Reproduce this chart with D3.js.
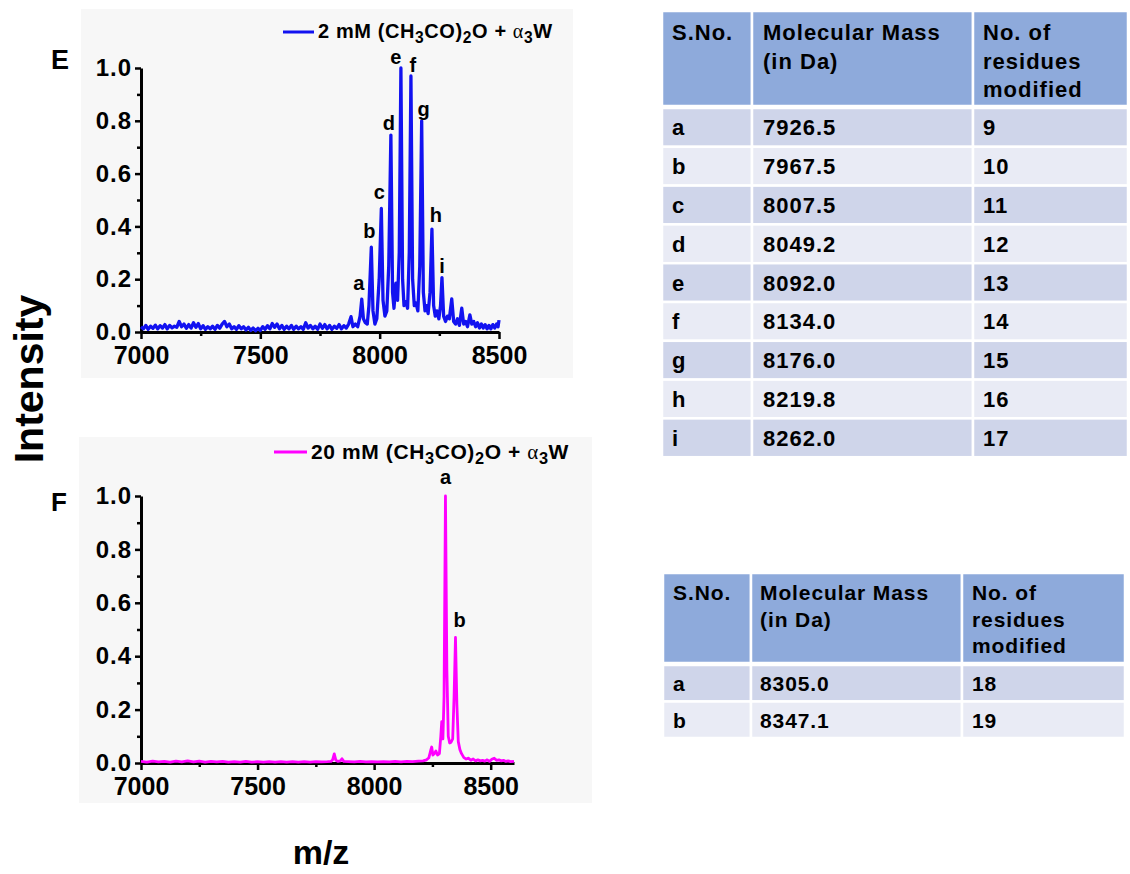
<!DOCTYPE html>
<html>
<head>
<meta charset="utf-8">
<script src="https://cdn.jsdelivr.net/npm/d3@7"></script>
<style>
body { margin: 0; background: #fff; }
svg text { font-family: "Liberation Sans", Arial, sans-serif; font-weight: bold; fill: #000; }
</style>
</head>
<body>
<script>
// ---- panel E : 2 mM acetic anhydride ----
// baseline noise, sampled every 10 Da from 7000
var baseE_start = 7000, baseE_step = 10;
var baseE = [
  .02,.012,.025,.01,.022,.014,.026,.012,.024,.015,
  .028,.012,.025,.016,.022,.018,.04,.02,.03,.014,
  .028,.015,.035,.018,.032,.012,.024,.01,.02,.012,
  .022,.01,.025,.014,.03,.04,.02,.03,.012,.02,
  .01,.024,.012,.02,.008,.018,.006,.015,.005,.014,
  .006,.02,.01,.024,.012,.032,.018,.03,.012,.025,
  .01,.022,.012,.025,.01,.022,.012,.02,.01,.035,
  .015,.025,.012,.022,.01,.03,.014,.028,.012,.025,
  .01,.022,.014,.028,.012,.024,.015
];
// peak envelope [m/z, intensity]
var peaksE = [
  [7870,.03],[7880,.058],[7888,.02],[7898,.03],[7908,.02],[7918,.06],[7925,.124],[7932,.05],
  [7940,.035],[7948,.03],[7955,.1],[7965,.321],[7972,.08],[7980,.03],[7988,.05],[7998,.2],
  [8007,.468],[8014,.12],[8022,.06],[8030,.08],[8038,.25],[8047,.746],[8054,.15],[8060,.09],
  [8068,.185],[8075,.12],[8082,.3],[8089,1.0],[8096,.2],[8102,.1],[8110,.115],[8117,.09],
  [8124,.3],[8131,.97],[8138,.2],[8145,.1],[8152,.11],[8160,.08],[8168,.25],[8176,.80],
  [8183,.15],[8190,.08],[8196,.1],[8203,.07],[8211,.15],[8219,.39],[8226,.1],[8233,.06],
  [8240,.08],[8248,.05],[8255,.1],[8261,.206],[8268,.06],[8276,.04],[8284,.06],[8292,.05],
  [8302,.125],[8310,.04],[8318,.03],[8326,.05],[8334,.025],[8344,.09],[8352,.03],[8360,.04],
  [8368,.02],[8378,.065],[8386,.03],[8394,.04],[8402,.02],[8410,.035],[8418,.015],[8426,.03],
  [8434,.015],[8442,.028],[8450,.012],[8458,.025],[8466,.012],[8474,.028],[8482,.015],
  [8490,.03],[8496,.02],[8500,.045]
];
var labelsE = ["a","b","c","d","e","f","g","h","i"];
var labelMzE = [7925,7965,8007,8047,8089,8131,8176,8219,8261];
var labelIntE = [.124,.321,.468,.746,1.0,.97,.80,.39,.206];
var nudgeE = [[-3,-9],[-2,-9],[-2,-9],[-2,-5],[-5,-4],[2,-4],[2,-5],[4,-7],[0,-5]];

// ---- panel F : 20 mM acetic anhydride ----
var spectrumF = [
  [7000,.006],[7025,.003],[7050,.007],[7075,.004],[7100,.006],[7125,.003],[7150,.007],[7175,.004],
  [7200,.008],[7225,.004],[7250,.007],[7275,.003],[7300,.006],[7325,.004],[7350,.006],[7375,.003],
  [7400,.005],[7425,.003],[7450,.006],[7475,.003],[7500,.005],[7525,.003],[7550,.005],[7575,.003],
  [7600,.005],[7625,.003],[7650,.005],[7675,.003],[7700,.005],[7725,.003],[7750,.005],[7775,.004],
  [7800,.005],[7815,.006],[7822,.012],[7829,.034],[7836,.01],[7845,.006],[7855,.008],[7862,.016],
  [7870,.006],[7890,.005],[7915,.004],[7940,.006],[7965,.004],[7990,.005],[8015,.004],[8040,.005],
  [8065,.004],[8090,.006],[8115,.004],[8140,.006],[8165,.005],[8190,.007],[8210,.008],[8225,.012],
  [8235,.02],[8242,.045],[8247,.06],[8252,.03],[8258,.035],[8265,.045],[8272,.03],[8280,.035],
  [8286,.1],[8290,.155],[8295,.09],[8300,.25],[8306,1.0],[8312,.35],[8318,.1],[8324,.075],
  [8330,.078],[8337,.09],[8343,.25],[8349,.47],[8355,.22],[8361,.08],[8368,.05],[8375,.035],
  [8385,.02],[8395,.015],[8405,.018],[8415,.01],[8425,.015],[8435,.008],[8445,.012],[8455,.008],
  [8465,.01],[8475,.007],[8485,.012],[8495,.006],[8505,.014],[8515,.018],[8525,.01],[8535,.012],
  [8545,.008],[8555,.01],[8565,.006],[8575,.008],[8585,.005],[8600,.006]
];
var labelsF = ["a","b"];
var labelMzF = [8306,8349];
var labelIntF = [1.0,.47];
var nudgeF = [[0,-12],[4,-11]];

// axis ticks
var yMajor = [0,.2,.4,.6,.8,1.0];
var yMinor = [.1,.3,.5,.7,.9];
var xMajor = [7000,7500,8000,8500];
var xMinor = [7250,7750,8250];

// legend text pieces: 0 normal, 1 subscript, 2 greek
var legendE = [["2 mM (CH",0],["3",1],["CO)",0],["2",1],["O + ",0],["\u03b1",2],["3",1],["W",0]];
var legendF = [["20 mM (CH",0],["3",1],["CO)",0],["2",1],["O + ",0],["\u03b1",2],["3",1],["W",0]];

// ---- tables ----
var tableHead = [["S.No."],["Molecular Mass","(in Da)"],["No. of","residues","modified"]];
var snoE = ["a","b","c","d","e","f","g","h","i"];
var massE = ["7926.5","7967.5","8007.5","8049.2","8092.0","8134.0","8176.0","8219.8","8262.0"];
var resE = [9,10,11,12,13,14,15,16,17];
var snoF = ["a","b"];
var massF = ["8305.0","8347.1"];
var resF = [18,19];

var svg = d3.select("body").append("svg")
  .attr("width", 1130).attr("height", 874);

function drawLegend(g, parts, lx, ly, tx, ty, color, size) {
  g.append("line").attr("x1", lx[0]).attr("x2", lx[1]).attr("y1", ly).attr("y2", ly)
    .attr("stroke", color).attr("stroke-width", 3);
  var t = g.append("text").attr("x", tx).attr("y", ty)
    .style("font-size", size + "px").style("letter-spacing", "0.6px");
  var shift = 0;
  parts.forEach(function(p) {
    var s = t.append("tspan").text(p[0]);
    var want = p[1] == 1 ? 5 : 0;
    if (want != shift) { s.attr("dy", want - shift); shift = want; }
    if (p[1] == 1) s.style("font-size", (size * 0.78) + "px");
    if (p[1] == 2) s.style("font-family", "'Liberation Serif', serif").style("font-weight", "normal");
  });
}

function drawPanel(p) {
  var g = svg.append("g");
  g.append("rect").attr("x", p.bg[0]).attr("y", p.bg[1]).attr("width", p.bg[2]).attr("height", p.bg[3])
    .attr("fill", "#f7f7f7");

  var x = d3.scaleLinear().domain(p.xDomain).range(p.xRange);
  var y = d3.scaleLinear().domain([0, 1]).range(p.yRange);

  // minor ticks first, then major axis with labels
  var gxm = g.append("g").attr("transform", "translate(0," + p.yRange[0] + ")")
    .call(d3.axisBottom(x).tickValues(xMinor).tickSize(4).tickSizeOuter(0).tickFormat(""));
  gxm.select(".domain").remove();
  var gym = g.append("g").attr("transform", "translate(" + p.xRange[0] + ",0)")
    .call(d3.axisLeft(y).tickValues(yMinor).tickSize(4).tickSizeOuter(0).tickFormat(""));
  gym.select(".domain").remove();

  var gx = g.append("g").attr("transform", "translate(0," + p.yRange[0] + ")")
    .call(d3.axisBottom(x).tickValues(xMajor).tickSize(7).tickSizeOuter(0).tickPadding(7)
      .tickFormat(d3.format("d")));
  gx.selectAll("text").style("font-size", "25px");
  var gy = g.append("g").attr("transform", "translate(" + p.xRange[0] + ",0)")
    .call(d3.axisLeft(y).tickValues(yMajor).tickSize(6).tickSizeOuter(0).tickPadding(3)
      .tickFormat(d3.format(".1f")));
  gy.selectAll("text").style("font-size", "24px").style("letter-spacing", "1px");

  g.selectAll(".domain").attr("stroke", "#000").attr("stroke-width", 3);
  g.selectAll(".tick line").attr("stroke", "#000").attr("stroke-width", 2.5);

  var line = d3.line().x(function(d) { return x(d[0]); }).y(function(d) { return y(d[1]); });
  g.append("path").datum(p.data)
    .attr("d", line)
    .attr("fill", "none")
    .attr("stroke", p.color)
    .attr("stroke-width", p.width)
    .attr("stroke-linejoin", "round");

  g.selectAll(".peaklab").data(p.labels).enter().append("text")
    .attr("class", "peaklab")
    .attr("x", function(d, i) { return x(p.labelMz[i]) + p.nudge[i][0]; })
    .attr("y", function(d, i) { return y(p.labelInt[i]) + p.nudge[i][1]; })
    .attr("text-anchor", "middle")
    .style("font-size", "20px")
    .text(function(d) { return d; });

  g.append("text").attr("x", p.letter[1]).attr("y", p.letter[2])
    .style("font-size", p.letter[3] + "px").text(p.letter[0]);

  drawLegend(g, p.legend, p.legendLine, p.legendY, p.legendText[0], p.legendText[1], p.color, p.legendSize);
}

drawPanel({
  bg: [81, 9, 492, 369],
  xDomain: [7000, 8500], xRange: [141, 499], yRange: [332, 68],
  data: baseE.map(function(v, i) { return [baseE_start + i * baseE_step, v]; }).concat(peaksE),
  color: "#1212f0", width: 3.3,
  labels: labelsE, labelMz: labelMzE, labelInt: labelIntE, nudge: nudgeE,
  letter: ["E", 51, 69, 27],
  legend: legendE, legendLine: [283, 314], legendY: 32, legendText: [318, 38], legendSize: 20
});

drawPanel({
  bg: [79, 437, 513, 366],
  xDomain: [7000, 8600], xRange: [141, 514], yRange: [763, 496],
  data: spectrumF,
  color: "#ff00ff", width: 2.8,
  labels: labelsF, labelMz: labelMzF, labelInt: labelIntF, nudge: nudgeF,
  letter: ["F", 51, 511, 26],
  legend: legendF, legendLine: [274, 307], legendY: 452, legendText: [311, 459], legendSize: 21
});

// shared axis titles
svg.append("text").attr("transform", "translate(43,379) rotate(-90)")
  .attr("text-anchor", "middle").style("font-size", "41px").text("Intensity");
svg.append("text").attr("x", 321).attr("y", 864)
  .attr("text-anchor", "middle").style("font-size", "34px").text("m/z");

function drawTable(t) {
  var g = svg.append("g");
  var rows = t.sno.map(function(s, i) { return [s, t.mass[i], String(t.res[i])]; });
  // header cells
  g.selectAll(".hc").data(tableHead).enter().append("rect")
    .attr("x", function(d, i) { return t.cols[i]; })
    .attr("y", t.headTop)
    .attr("width", function(d, i) { return t.cols[i + 1] - t.cols[i]; })
    .attr("height", t.headH)
    .attr("fill", "#8eaadb").attr("stroke", "#fff").attr("stroke-width", 2.5);
  tableHead.forEach(function(lines, c) {
    lines.forEach(function(s, k) {
      g.append("text").attr("x", t.cols[c] + t.pad[c]).attr("y", t.headTop + t.firstBase + k * t.lineH)
        .style("font-size", t.font + "px").style("letter-spacing", t.spacing + "px").text(s);
    });
  });
  var top = t.headTop + t.headH + 2;
  rows.forEach(function(r, i) {
    var ry = top + i * t.rowH;
    r.forEach(function(s, c) {
      g.append("rect").attr("x", t.cols[c]).attr("y", ry)
        .attr("width", t.cols[c + 1] - t.cols[c]).attr("height", t.rowH)
        .attr("fill", i % 2 == 0 ? "#cfd5ea" : "#e9ebf5")
        .attr("stroke", "#fff").attr("stroke-width", 2.5);
      g.append("text").attr("x", t.cols[c] + t.pad[c]).attr("y", ry + t.rowH / 2 + 8)
        .style("font-size", t.font + "px").style("letter-spacing", t.spacing + "px").text(s);
    });
  });
}

drawTable({ cols: [662, 752, 973, 1128], headTop: 11, headH: 95, rowH: 38.8, firstBase: 29, lineH: 28.5,
  pad: [10, 11, 10], font: 22, spacing: 1, sno: snoE, mass: massE, res: resE });
drawTable({ cols: [663, 751, 962, 1125], headTop: 573, headH: 90, rowH: 36.5, firstBase: 27, lineH: 26.5,
  pad: [10, 9, 10], font: 21, spacing: 0.9, sno: snoF, mass: massF, res: resF });
</script>
</body>
</html>
